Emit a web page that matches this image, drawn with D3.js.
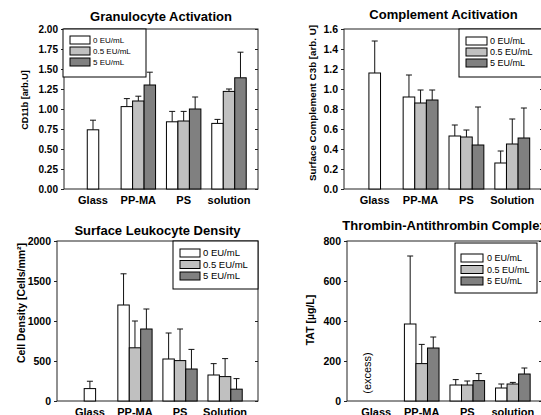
<!DOCTYPE html>
<html>
<head>
<meta charset="utf-8">
<script src="https://cdn.jsdelivr.net/npm/d3@7"></script>
<style>
  body { margin: 0; background: #fff; }
  svg { display: block; font-family: "Liberation Sans", Arial, sans-serif; }
</style>
</head>
<body>
<div id="chart"></div>
<script>
/* Data */
const doses = ['0 EU/mL', '0.5 EU/mL', '5 EU/mL'];

const groupsCd11b = ['Glass', 'PP-MA', 'PS', 'solution'];
const cd11bMean = [[0.74, null, null], [1.03, 1.10, 1.30], [0.84, 0.85, 1.00], [0.82, 1.22, 1.39]];
const cd11bErr = [[0.12, null, null], [0.10, 0.06, 0.16], [0.13, 0.12, 0.15], [0.05, 0.03, 0.32]];
const cd11bTicks = [0, 0.25, 0.5, 0.75, 1, 1.25, 1.5, 1.75, 2];

const groupsC3b = ['Glass', 'PP-MA', 'PS', 'Solution'];
const c3bMean = [[1.16, null, null], [0.92, 0.86, 0.89], [0.53, 0.52, 0.44], [0.26, 0.45, 0.51]];
const c3bErr = [[0.32, null, null], [0.22, 0.13, 0.10], [0.11, 0.07, 0.38], [0.12, 0.25, 0.30]];
const c3bTicks = [0, 0.2, 0.4, 0.6, 0.8, 1.0, 1.2, 1.4, 1.6];

const groupsDensity = ['Glass', 'PP-MA', 'PS', 'Solution'];
const densityMean = [[155, null, null], [1200, 665, 900], [525, 505, 400], [325, 305, 148]];
const densityErr = [[92, null, null], [390, 335, 250], [325, 395, 245], [142, 225, 132]];
const densityTicks = [0, 500, 1000, 1500, 2000];

const groupsTat = ['Glass', 'PP-MA', 'PS', 'solution'];
const tatMean = [[null, null, null], [385, 187, 265], [80, 80, 102], [65, 85, 135]];
const tatErr = [[null, null, null], [340, 96, 55], [27, 20, 35], [20, 8, 30]];
const tatTicks = [0, 200, 400, 600, 800];

const fills = ['#ffffff', '#c0c0c0', '#808080'];

const svg = d3
  .select('#chart')
  .append('svg')
  .attr('width', 541)
  .attr('height', 415);

// one panel per measurement
const panels = [
  {
    title: 'Granulocyte Activation', titleY: 21, ylabel: 'CD11b [arb.U]', ylabelX: 28, ylabelY: 100, ylabelSize: 9,
    groups: groupsCd11b, mean: cd11bMean, err: cd11bErr, ticks: cd11bTicks, fmt: '.2f', max: 2,
    left: 64, right: 258, top: 29, bottom: 189, po: 0.26, tickSize: 10,
    legend: { x: 63, y: 29, w: 83, h: 48, sx: 7, sw: 20, tx: 30, r0: 11, step: 11, fs: 8 },
  },
  {
    title: 'Complement Acitivation', titleY: 19, ylabel: 'Surface Complement C3b [arb. U]', ylabelX: 316, ylabelY: 103, ylabelSize: 9.8,
    groups: groupsC3b, mean: c3bMean, err: c3bErr, ticks: c3bTicks, fmt: '.1f', max: 1.6,
    left: 344, right: 543, top: 29, bottom: 189, po: 0.29, tickSize: 10.5,
    legend: { x: 459, y: 29, w: 100, h: 48, sx: 7, sw: 21, tx: 31, r0: 12, step: 11, fs: 9 },
  },
  {
    title: 'Surface Leukocyte Density', titleY: 235, ylabel: 'Cell Density [Cells/mm²]', ylabelX: 25, ylabelY: 303, ylabelSize: 10.5,
    groups: groupsDensity, mean: densityMean, err: densityErr, ticks: densityTicks, fmt: 'd', max: 2000,
    left: 57, right: 258, top: 241, bottom: 401, po: 0.35, tickSize: 10.5,
    legend: { x: 173, y: 241, w: 85, h: 48, sx: 7, sw: 20, tx: 30, r0: 12, step: 11.5, fs: 9.5 },
  },
  {
    title: 'Thrombin-Antithrombin Complex', titleY: 230, ylabel: 'TAT [µg/L]', ylabelX: 314, ylabelY: 320, ylabelSize: 10.5,
    groups: groupsTat, mean: tatMean, err: tatErr, ticks: tatTicks, fmt: 'd', max: 800,
    left: 347, right: 542, top: 241, bottom: 401, po: 0.26, tickSize: 10.5,
    legend: { x: 455, y: 243, w: 82, h: 50, sx: 6, sw: 22, tx: 32, r0: 15, step: 11.5, fs: 9 },
    note: '(excess)',
  },
];

panels.forEach((p) => drawPanel(p));

function drawPanel(p) {
  const g = svg.append('g');

  const x0 = d3
    .scaleBand()
    .domain(p.groups)
    .range([p.left, p.right])
    .paddingInner(0.24)
    .paddingOuter(p.po);

  const x1 = d3.scaleBand().domain(doses).range([0, x0.bandwidth()]);

  const y = d3.scaleLinear().domain([0, p.max]).range([p.bottom, p.top]);

  // frame
  g.append('rect')
    .attr('x', p.left)
    .attr('y', p.top)
    .attr('width', p.right - p.left)
    .attr('height', p.bottom - p.top)
    .attr('fill', 'none')
    .attr('stroke', '#222')
    .attr('stroke-width', 1);

  // left axis, ticks outward
  const yAxis = g
    .append('g')
    .attr('transform', `translate(${p.left},0)`)
    .call(d3.axisLeft(y).tickValues(p.ticks).tickFormat(d3.format(p.fmt)).tickSize(3).tickSizeOuter(0).tickPadding(3));
  yAxis.select('.domain').remove();
  yAxis.selectAll('line').attr('stroke', '#222');
  yAxis
    .selectAll('text')
    .attr('font-family', '"Liberation Sans", Arial, sans-serif')
    .attr('font-size', p.tickSize)
    .attr('font-weight', 'bold')
    .attr('fill', '#000');

  // right axis, ticks inward, no labels
  const yRight = g
    .append('g')
    .attr('transform', `translate(${p.right},0)`)
    .call(d3.axisRight(y).tickValues(p.ticks).tickFormat('').tickSize(-3).tickSizeOuter(0));
  yRight.select('.domain').remove();
  yRight.selectAll('line').attr('stroke', '#222');

  // category labels
  g.selectAll('text.cat')
    .data(p.groups)
    .join('text')
    .attr('class', 'cat')
    .attr('x', (d) => x0(d) + x0.bandwidth() / 2)
    .attr('y', p.bottom + 15)
    .attr('text-anchor', 'middle')
    .attr('font-size', 11)
    .attr('font-weight', 'bold')
    .text((d) => d);

  // bars
  const bars = [];
  p.groups.forEach((grp, gi) => {
    const present = p.mean[gi].filter((v) => v !== null).length;
    p.mean[gi].forEach((v, di) => {
      if (v === null) return;
      // a lone bar sits in the middle slot of its group
      const slot = present === 1 ? doses[1] : doses[di];
      bars.push({ grp, dose: di, slot, value: v, err: p.err[gi][di] });
    });
  });

  const barG = g.selectAll('g.bar').data(bars).join('g').attr('class', 'bar');

  barG
    .append('rect')
    .attr('x', (d) => x0(d.grp) + x1(d.slot))
    .attr('y', (d) => y(d.value))
    .attr('width', x1.bandwidth())
    .attr('height', (d) => y(0) - y(d.value))
    .attr('fill', (d) => fills[d.dose])
    .attr('stroke', '#000')
    .attr('stroke-width', 1);

  const cx = (d) => x0(d.grp) + x1(d.slot) + x1.bandwidth() / 2;
  barG
    .append('line')
    .attr('x1', cx)
    .attr('x2', cx)
    .attr('y1', (d) => y(d.value))
    .attr('y2', (d) => y(d.value + d.err))
    .attr('stroke', '#111');
  barG
    .append('line')
    .attr('x1', (d) => cx(d) - 3)
    .attr('x2', (d) => cx(d) + 3)
    .attr('y1', (d) => y(d.value + d.err))
    .attr('y2', (d) => y(d.value + d.err))
    .attr('stroke', '#111');

  // title
  g.append('text')
    .attr('x', (p.left + p.right) / 2)
    .attr('y', p.titleY)
    .attr('text-anchor', 'middle')
    .attr('font-size', 13)
    .attr('font-weight', 'bold')
    .text(p.title);

  // y label
  g.append('text')
    .attr('transform', `translate(${p.ylabelX},${p.ylabelY}) rotate(-90)`)
    .attr('text-anchor', 'middle')
    .attr('font-size', p.ylabelSize)
    .attr('font-weight', 'bold')
    .text(p.ylabel);

  if (p.note) {
    g.append('text')
      .attr('transform', `translate(${x0(p.groups[0]) + x0.bandwidth() / 2 - 5},${y(100) - 8}) rotate(-90)`)
      .attr('text-anchor', 'middle')
      .attr('font-size', 11)
      .text(p.note);
  }

  // legend
  const L = p.legend;
  const lg = g.append('g').attr('transform', `translate(${L.x},${L.y})`);
  lg.append('rect')
    .attr('width', L.w)
    .attr('height', L.h)
    .attr('fill', '#fff')
    .attr('stroke', '#000')
    .attr('stroke-width', 1);
  const rows = lg
    .selectAll('g.row')
    .data(doses)
    .join('g')
    .attr('class', 'row')
    .attr('transform', (d, i) => `translate(0,${L.r0 + i * L.step})`);
  rows
    .append('rect')
    .attr('x', L.sx)
    .attr('y', -4)
    .attr('width', L.sw)
    .attr('height', 8)
    .attr('fill', (d, i) => fills[i])
    .attr('stroke', '#000');
  rows
    .append('text')
    .attr('x', L.tx)
    .attr('dy', '0.35em')
    .attr('font-size', L.fs)
    .text((d) => d);
}
</script>
</body>
</html>
